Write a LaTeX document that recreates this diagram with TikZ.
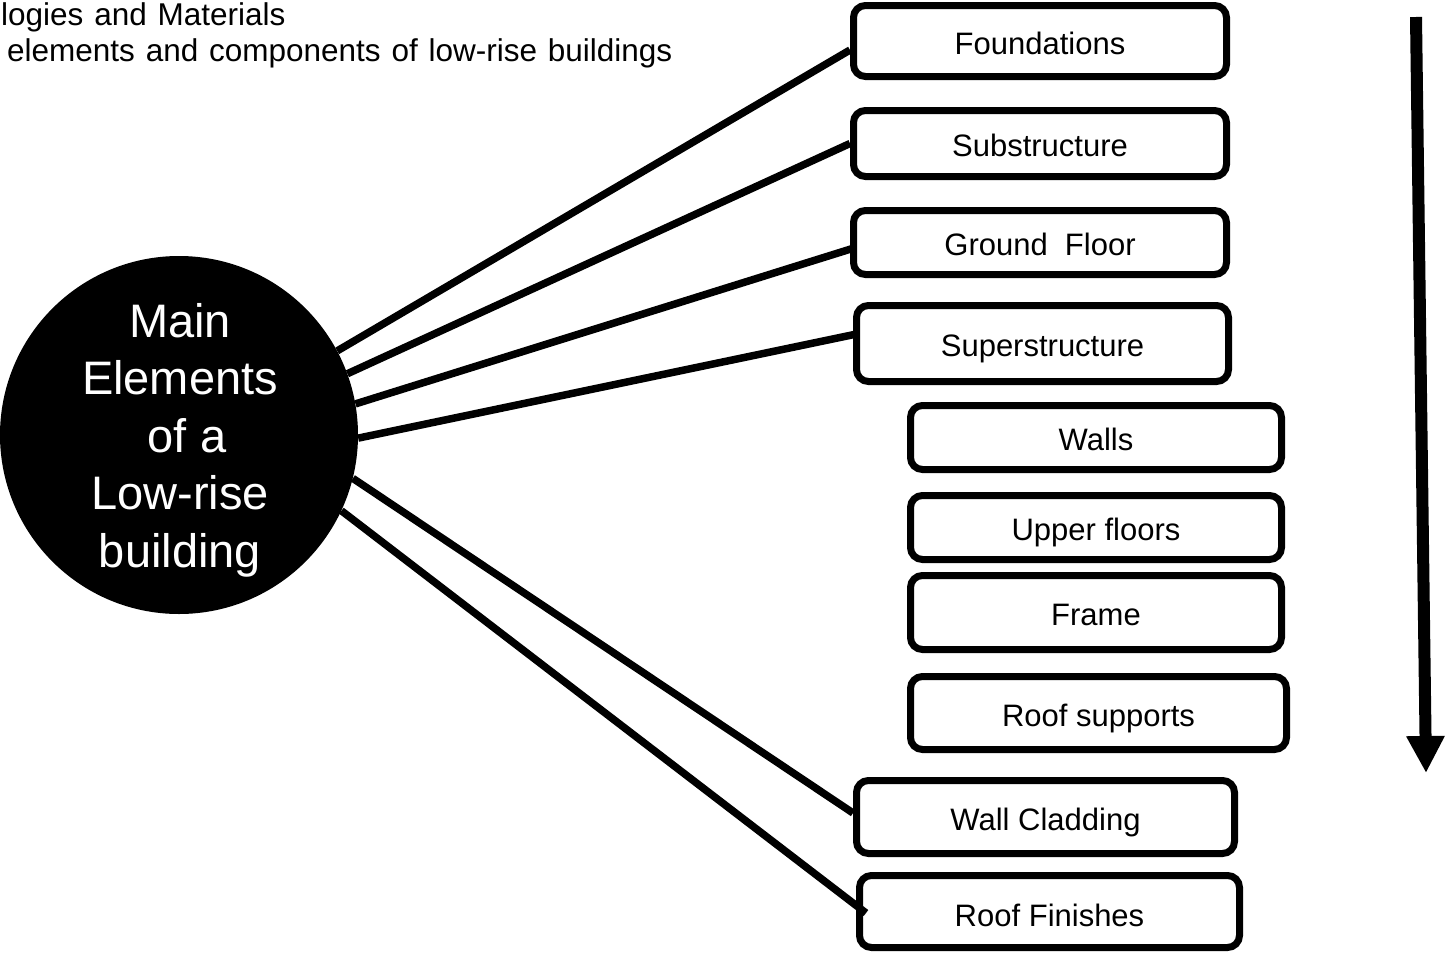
\documentclass[tikz,border=0pt]{standalone}
\usepackage{fontspec}
\setmainfont{Liberation Sans}
\usetikzlibrary{arrows.meta}
\newcommand{\widesp}{\spaceskip=10.8pt\relax}
\tikzset{
  elbox/.style={draw=black, line width=7pt, rounded corners=12pt, inner sep=0pt,
    font=\fontsize{31}{37}\selectfont, text height=26pt, text depth=0pt},
  conn/.style={draw=black, line width=7.5pt},
  hdr/.style={anchor=base west, inner sep=0pt, font=\fontsize{31.5}{37}\selectfont}
}
\begin{document}
\begin{tikzpicture}[x=1pt, y=-1pt]
\useasboundingbox (0,0) rectangle (1445,953);
% header text (cropped)
\node[hdr] (h1) at (1,25) {\widesp logies and Materials};
\node[hdr] (h2) at (7,61) {\widesp elements and components of low-rise buildings};
% central circle
\node[circle, fill=black, minimum size=358pt, inner sep=0pt] (c) at (179,435) {};
\node[text=white, align=center, inner sep=0pt, font=\fontsize{47}{57.5}\selectfont] (ct) at (180,440)
  {Main\\Elements\\\hspace*{14pt}of a\\Low-rise\\building};
% boxes
\node[elbox, minimum width=373pt, minimum height=71pt] (f1) at (1040,41) {Foundations};
\node[elbox, minimum width=373pt, minimum height=66pt] (f2) at (1040,143.5) {Substructure};
\node[elbox, minimum width=373pt, minimum height=64pt] (f3) at (1040,242.5) {Ground\ \ Floor};
\node[elbox, minimum width=372pt, minimum height=76pt] (f4) at (1042.5,343.5) {Superstructure};
\node[elbox, minimum width=371pt, minimum height=64pt] (f5) at (1096,437.5) {Walls};
\node[elbox, minimum width=371pt, minimum height=64pt] (f6) at (1096,527.5) {Upper floors};
\node[elbox, minimum width=371pt, minimum height=74pt] (f7) at (1096,612.5) {Frame};
\node[elbox, minimum width=376pt, minimum height=73pt] (f8) at (1098.5,713) {Roof supports};
\node[elbox, minimum width=378pt, minimum height=73pt] (f9) at (1045.5,817) {Wall Cladding};
\node[elbox, minimum width=380pt, minimum height=72pt, text height=30pt] (f10) at (1049.5,911.5) {Roof Finishes};
% connectors
\draw[conn] (c.28) -- ([yshift=-9pt]f1.west);
\draw[conn] (c.20) -- (f2.west);
\draw[conn] (c.10) -- ([shift={(4pt,-5.5pt)}]f3.west);
\draw[conn] (c.-1) -- ([shift={(6pt,10pt)}]f4.west);
\draw[conn] (c.-14) -- ([yshift=4pt]f9.west);
\draw[conn] (c.-25) -- ([shift={(10pt,-1.5pt)}]f10.west);
% order arrow
\coordinate (a1) at (1416,17);
\coordinate (a2) at (1426,773);
\draw[line width=12pt, -{Triangle[width=36pt,length=37pt]}] (a1) -- (a2);
\end{tikzpicture}
\end{document}
